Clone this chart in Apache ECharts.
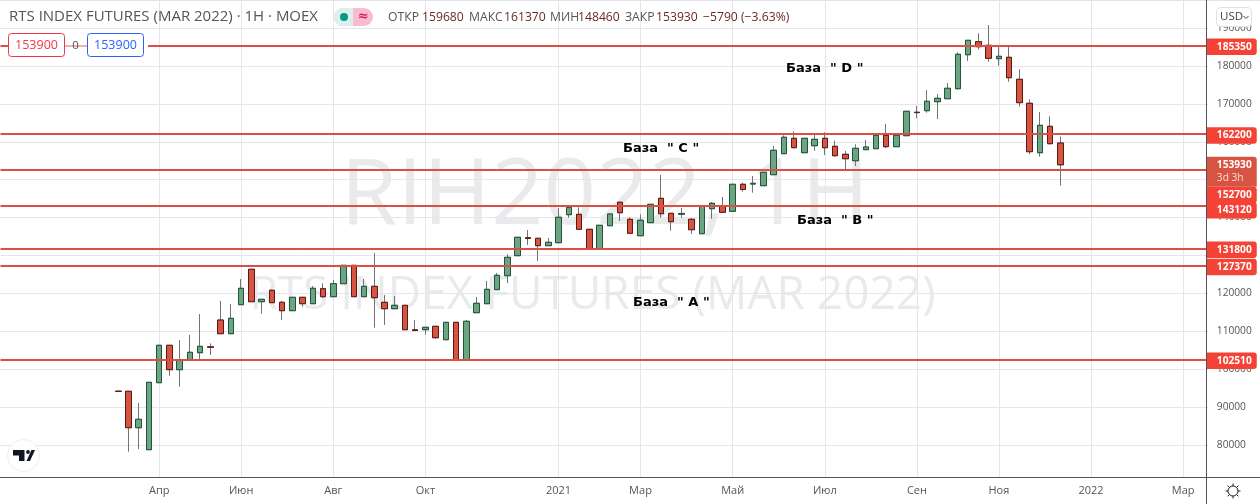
<!DOCTYPE html>
<html><head><meta charset="utf-8">
<style>html,body{margin:0;padding:0;background:#fff}#c{width:1260px;height:504px}</style>
<script src="https://cdn.jsdelivr.net/npm/echarts@6/dist/echarts.min.js"></script>
</head><body><div id="c"></div>
<script>
const opens=[94170,94170,84560,78760,96440,106310,99870,102350,104350,105900,112980,109370,117020,126360,117810,120820,117650,115440,118970,117280,
121240,119130,122560,127410,119130,121870,117650,115960,116860,110400,110420,111320,107780,112370,102510,114910,117280,120980,124670,129950,
134700,134540,132590,133380,140770,140870,136910,131790,137860,144040,139550,135220,138650,145090,141130,140900,139550,135750,142350,143140,
141660,148790,148850,148420,151320,156860,160920,157120,158970,160920,158810,156700,155010,157920,158180,161710,158710,161610,167800,168210,
170580,171370,174010,182980,186410,185460,181930,182300,176490,170160,157120,164090,159680];
const closes=[94170,84560,86780,96540,106310,99870,102350,104460,106040,105800,109370,113430,121350,117810,118440,117550,115440,118970,117280,121350,
119130,122560,127410,119130,121870,118870,115960,116860,110420,110200,111060,108310,112370,102510,112640,117390,121080,124780,129520,134800,
134500,132590,133480,140080,142720,136910,131790,137970,140950,141290,135860,139290,143510,141030,138920,141100,136810,143060,143770,141400,
148790,147410,149050,151950,157760,161190,158440,160920,160660,158440,156330,155540,158280,158630,161710,158710,161710,168050,167700,170690,
171480,174120,183090,186780,185090,182030,182560,176910,170320,157390,164350,159500,153930];
const lows=[94170,78230,78950,78760,96440,98290,95380,102350,102610,103750,109370,109370,117020,117810,114640,117550,112980,115440,116490,117280,
118870,119130,122560,119130,119130,110950,111660,115960,110420,110200,109100,108050,107780,102510,102510,114910,117280,120980,122740,129950,
132770,128550,132590,133380,139970,136910,131790,131790,137860,139100,135860,135220,138650,139970,136540,139970,135670,135750,139710,141400,
141660,146830,146570,148420,151320,156860,158440,157120,157650,156520,156070,152820,153610,157920,158180,158360,158710,161610,166200,167680,
166020,171370,173750,181320,184410,181130,180080,175860,169260,156700,156070,159340,148460];
const highs=[94170,94170,91080,96540,106310,106310,107700,109020,114560,106830,117990,117200,123800,126360,118440,121080,117990,118970,118970,121950,
122660,123540,127410,127410,123800,130660,119580,119310,116860,112980,111060,111320,112370,112370,112980,119050,123270,125380,130320,134800,
136730,134540,134620,142530,142720,142720,136910,137970,140950,144250,140080,140870,143510,151240,141130,142530,139810,143060,144120,145440,
148790,149210,150980,151950,158890,161710,162770,160920,161790,162510,160290,157570,159340,160470,161710,164700,161710,168050,169450,173670,
172610,175510,183610,186780,188630,190820,185090,185090,179130,171210,167860,166730,161370];
const levels=[185350,162200,152700,143120,131800,127370,102510];
const lastPrice=153930;
const lastCountdown='3d 3h';
const yTicks=[80000,90000,100000,110000,120000,130000,140000,150000,160000,170000,180000,190000];
const xTickIndex=[15,23,32,41,54,62,71,80,89,97,106,115];
const xTickLabels=['Апр','Июн','Авг','Окт','2021','Мар','Май','Июл','Сен','Ноя','2022','Мар'];
const categories=[];
{const start=Date.UTC(2019,11,16);for(let i=0;i<118;i++){categories.push(new Date(start+i*7*864e5).toISOString().slice(0,10));}}
const leadBlank=11;

const GRID_L=0.5,GRID_R=1208.8,Y_TOP=0,Y_BOT=477;
const yMin=80000-(Y_BOT-445)/0.00379, yMax=80000+(445-Y_TOP)/0.00379;
const pad=new Array(leadBlank).fill(['-','-','-','-']);
const full=[...pad,...opens.map((o,i)=>[o,closes[i],lows[i],highs[i]])];
const body=[...pad,...opens.map((o,i)=>[o,closes[i],Math.min(o,closes[i]),Math.max(o,closes[i])])];
const isTick=i=>xTickIndex.includes(i);
const FONT='"Open Sans",sans-serif';
const tagOffsets=[1,2,25.5,4.5,1,1.5,1];

const tagStyle=(off)=>({show:true,position:'end',distance:0,formatter:'{c}',align:'left',color:'#fff',fontFamily:FONT,fontSize:10.2,fontWeight:'bold',
  backgroundColor:'#f44336',borderRadius:[0,3,3,0],padding:[2,5,2,10],lineHeight:12.5,offset:[-2,off]});
const lineData=levels.map((v,i)=>({yAxis:v,label:tagStyle(tagOffsets[i])}));
lineData.unshift({yAxis:lastPrice,lineStyle:{color:'transparent',width:0},label:{show:true,position:'end',distance:0,formatter:'{a|'+lastPrice+'}\n{b|'+lastCountdown+'}',
   align:'left',backgroundColor:'#d75442',borderRadius:[0,3,0,0],padding:[1,5,2,10],offset:[-2,7],
   rich:{a:{color:'#fff',fontFamily:FONT,fontSize:10.2,fontWeight:'bold',lineHeight:14},b:{color:'#fbdcd8',fontFamily:FONT,fontSize:10.2,lineHeight:13}}}});

const lab=(t,x,y,size,fill,extra)=>({type:'text',x,y,z:10,silent:true,style:Object.assign({text:t,font:`${size}px ${FONT}`,fill,textVerticalAlign:'middle'},extra||{})});
const anno=(t,x,y)=>({type:'text',x,y,silent:true,z:20,style:{text:t,font:'600 13px "DejaVu Sans"',fill:'#000',textVerticalAlign:'middle'}});
const headerPairs=[['ОТКР',388,'#555'],['159680',422,'#6b2a24'],['МАКС',469,'#555'],['161370',504,'#6b2a24'],['МИН',550,'#555'],['148460',578,'#6b2a24'],['ЗАКР',625,'#555'],['153930',656,'#6b2a24'],['−5790 (−3.63%)',703,'#6b2a24']];
const sunSpikes=[];
for(let k=0;k<8;k++){const a=k*Math.PI/4;sunSpikes.push({type:'line',z:30,silent:true,shape:{x1:1233+5*Math.cos(a),y1:491+5*Math.sin(a),x2:1233+7.5*Math.cos(a),y2:491+7.5*Math.sin(a)},style:{stroke:'#222',lineWidth:1}});}

const graphic=[
 {type:'text',z:-1,silent:true,x:605,y:198,style:{text:'RIH2022, 1H',font:`92px ${FONT}`,fill:'rgba(120,123,134,0.16)',textAlign:'center',textVerticalAlign:'middle'}},
 {type:'text',z:-1,silent:true,x:592.5,y:296,style:{text:'RTS INDEX FUTURES (MAR 2022)',font:`46px ${FONT}`,fill:'rgba(120,123,134,0.16)',textAlign:'center',textVerticalAlign:'middle'}},
 {type:'line',z:25,silent:true,shape:{x1:0,y1:0.5,x2:1260,y2:0.5},style:{stroke:'#e0e3eb',lineWidth:1}},
 {type:'line',z:25,silent:true,shape:{x1:1206.5,y1:0,x2:1206.5,y2:504},style:{stroke:'#50535e',lineWidth:1}},
 {type:'line',z:25,silent:true,shape:{x1:0,y1:477.5,x2:1260,y2:477.5},style:{stroke:'#50535e',lineWidth:1}},
 lab('RTS INDEX FUTURES (MAR 2022) · 1H · MOEX',9,17,15,'#555'),
 ...headerPairs.map(p=>lab(p[0],p[1],18,12.2,p[2])),
 {type:'rect',z:20,silent:true,shape:{x:334,y:8,width:39,height:18,r:9},style:{fill:'#f7bcd0'}},
 {type:'rect',z:21,silent:true,shape:{x:334,y:8,width:19,height:18,r:[9,0,0,9]},style:{fill:'#dcf1ee'}},
 {type:'circle',z:22,silent:true,shape:{cx:344,cy:17,r:4},style:{fill:'#089981'}},
 {type:'text',z:22,silent:true,x:358,y:17,style:{text:'≈',font:'bold 13px "DejaVu Sans"',fill:'#d81b60',textVerticalAlign:'middle'}},
 {type:'rect',z:20,silent:true,shape:{x:65,y:34,width:22,height:23},style:{fill:'rgba(255,255,255,0.55)'}},
 {type:'rect',z:20,silent:true,shape:{x:144,y:40,width:4,height:12},style:{fill:'#fff'}},
 {type:'rect',z:21,silent:true,shape:{x:8.5,y:33.5,width:56,height:23,r:3},style:{fill:'#fff',stroke:'#f23645',lineWidth:1}},
 {type:'rect',z:21,silent:true,shape:{x:87.5,y:33.5,width:56,height:23,r:3},style:{fill:'#fff',stroke:'#2962ff',lineWidth:1}},
 {type:'text',z:22,silent:true,x:36.5,y:45.5,style:{text:'153900',font:`12.5px ${FONT}`,fill:'#f23645',textAlign:'center',textVerticalAlign:'middle'}},
 {type:'text',z:22,silent:true,x:75.5,y:45.5,style:{text:'0',font:`11.5px ${FONT}`,fill:'#555',textAlign:'center',textVerticalAlign:'middle'}},
 {type:'text',z:22,silent:true,x:115.5,y:45.5,style:{text:'153900',font:`12.5px ${FONT}`,fill:'#2962ff',textAlign:'center',textVerticalAlign:'middle'}},
 anno('База  " A "',633,303),anno('База  " B "',797,221),anno('База  " C "',623,149),anno('База  " D "',786,69),
 {type:'rect',z:28,silent:true,shape:{x:1216.5,y:7.5,width:35,height:19,r:4},style:{fill:'#fff',stroke:'#dfe1e6',lineWidth:1}},
 {type:'text',z:29,silent:true,x:1220,y:17,style:{text:'USD',font:`11.5px ${FONT}`,fill:'#444',textVerticalAlign:'middle'}},
 {type:'polyline',z:29,silent:true,shape:{points:[[1243.5,16],[1246,18.5],[1248.5,16]]},style:{stroke:'#444',fill:null,lineWidth:1}},
 {type:'circle',z:30,silent:true,shape:{cx:1233,cy:491,r:5},style:{fill:'#fff',stroke:'#222',lineWidth:1}},
 ...sunSpikes,
 {type:'circle',z:26,silent:true,shape:{cx:23.5,cy:455.5,r:16},style:{fill:'#fff',stroke:'#eeeeee',lineWidth:1}},
 {type:'polygon',z:27,silent:true,shape:{points:[[13,450],[24.5,450],[24.5,461],[19,461],[19,455.5],[13,455.5]]},style:{fill:'#131722'}},
 {type:'polygon',z:27,silent:true,shape:{points:[[26.5,461],[31.5,450],[35,450],[30,461]]},style:{fill:'#131722'}},
 {type:'circle',z:27,silent:true,shape:{cx:28,cy:452,r:1.9},style:{fill:'#131722'}}
];

const chart=echarts.init(document.getElementById('c'),null,{renderer:'canvas',width:1260,height:504});
chart.setOption({
 animation:false,
 backgroundColor:'#fff',
 grid:{left:GRID_L,width:GRID_R-GRID_L,top:Y_TOP,height:Y_BOT-Y_TOP,containLabel:false},
 graphic:graphic,
 xAxis:{type:'category',data:categories,boundaryGap:true,
   axisLine:{show:false},axisTick:{show:false,alignWithLabel:true},
   axisLabel:{show:true,color:'#555',fontFamily:FONT,fontSize:11,margin:8,interval:(i)=>isTick(i),formatter:(v,i)=>xTickLabels[xTickIndex.indexOf(i)]||'',hideOverlap:false},
   splitLine:{show:true,alignWithLabel:true,interval:(i)=>isTick(i),lineStyle:{color:'#e4e6ec',width:1}}},
 yAxis:{type:'value',position:'right',offset:-2,min:yMin,max:yMax,scale:true,z:0,
   axisLine:{show:false},axisTick:{show:false,customValues:yTicks},
   axisLabel:{show:true,customValues:yTicks,formatter:(v)=>String(v),color:'#555',fontFamily:FONT,fontSize:10.2,margin:10,align:'left',padding:[2,0,0,0]},
   splitLine:{show:true,lineStyle:{color:'#e4e6ec',width:1}}},
 series:[
  {type:'candlestick',name:'levels',z:1,clip:false,data:[],silent:true,
   markLine:{silent:true,symbol:'none',animation:false,precision:0,lineStyle:{color:'#dc4f45',width:2,type:'solid'},data:lineData}},
  {type:'candlestick',name:'wick',z:3,barWidth:6,data:full,silent:true,
   itemStyle:{color:'#737375',color0:'#737375',borderColor:'#737375',borderColor0:'#737375',borderColorDoji:'#737375',borderWidth:1}},
  {type:'candlestick',name:'body',z:4,barWidth:6,data:body,silent:true,
   itemStyle:{color:'#6ba583',color0:'#d75442',borderColor:'#225437',borderColor0:'#5b1a13',borderColorDoji:'#5b1a13',borderWidth:1}}
 ]
});
</script></body></html>
